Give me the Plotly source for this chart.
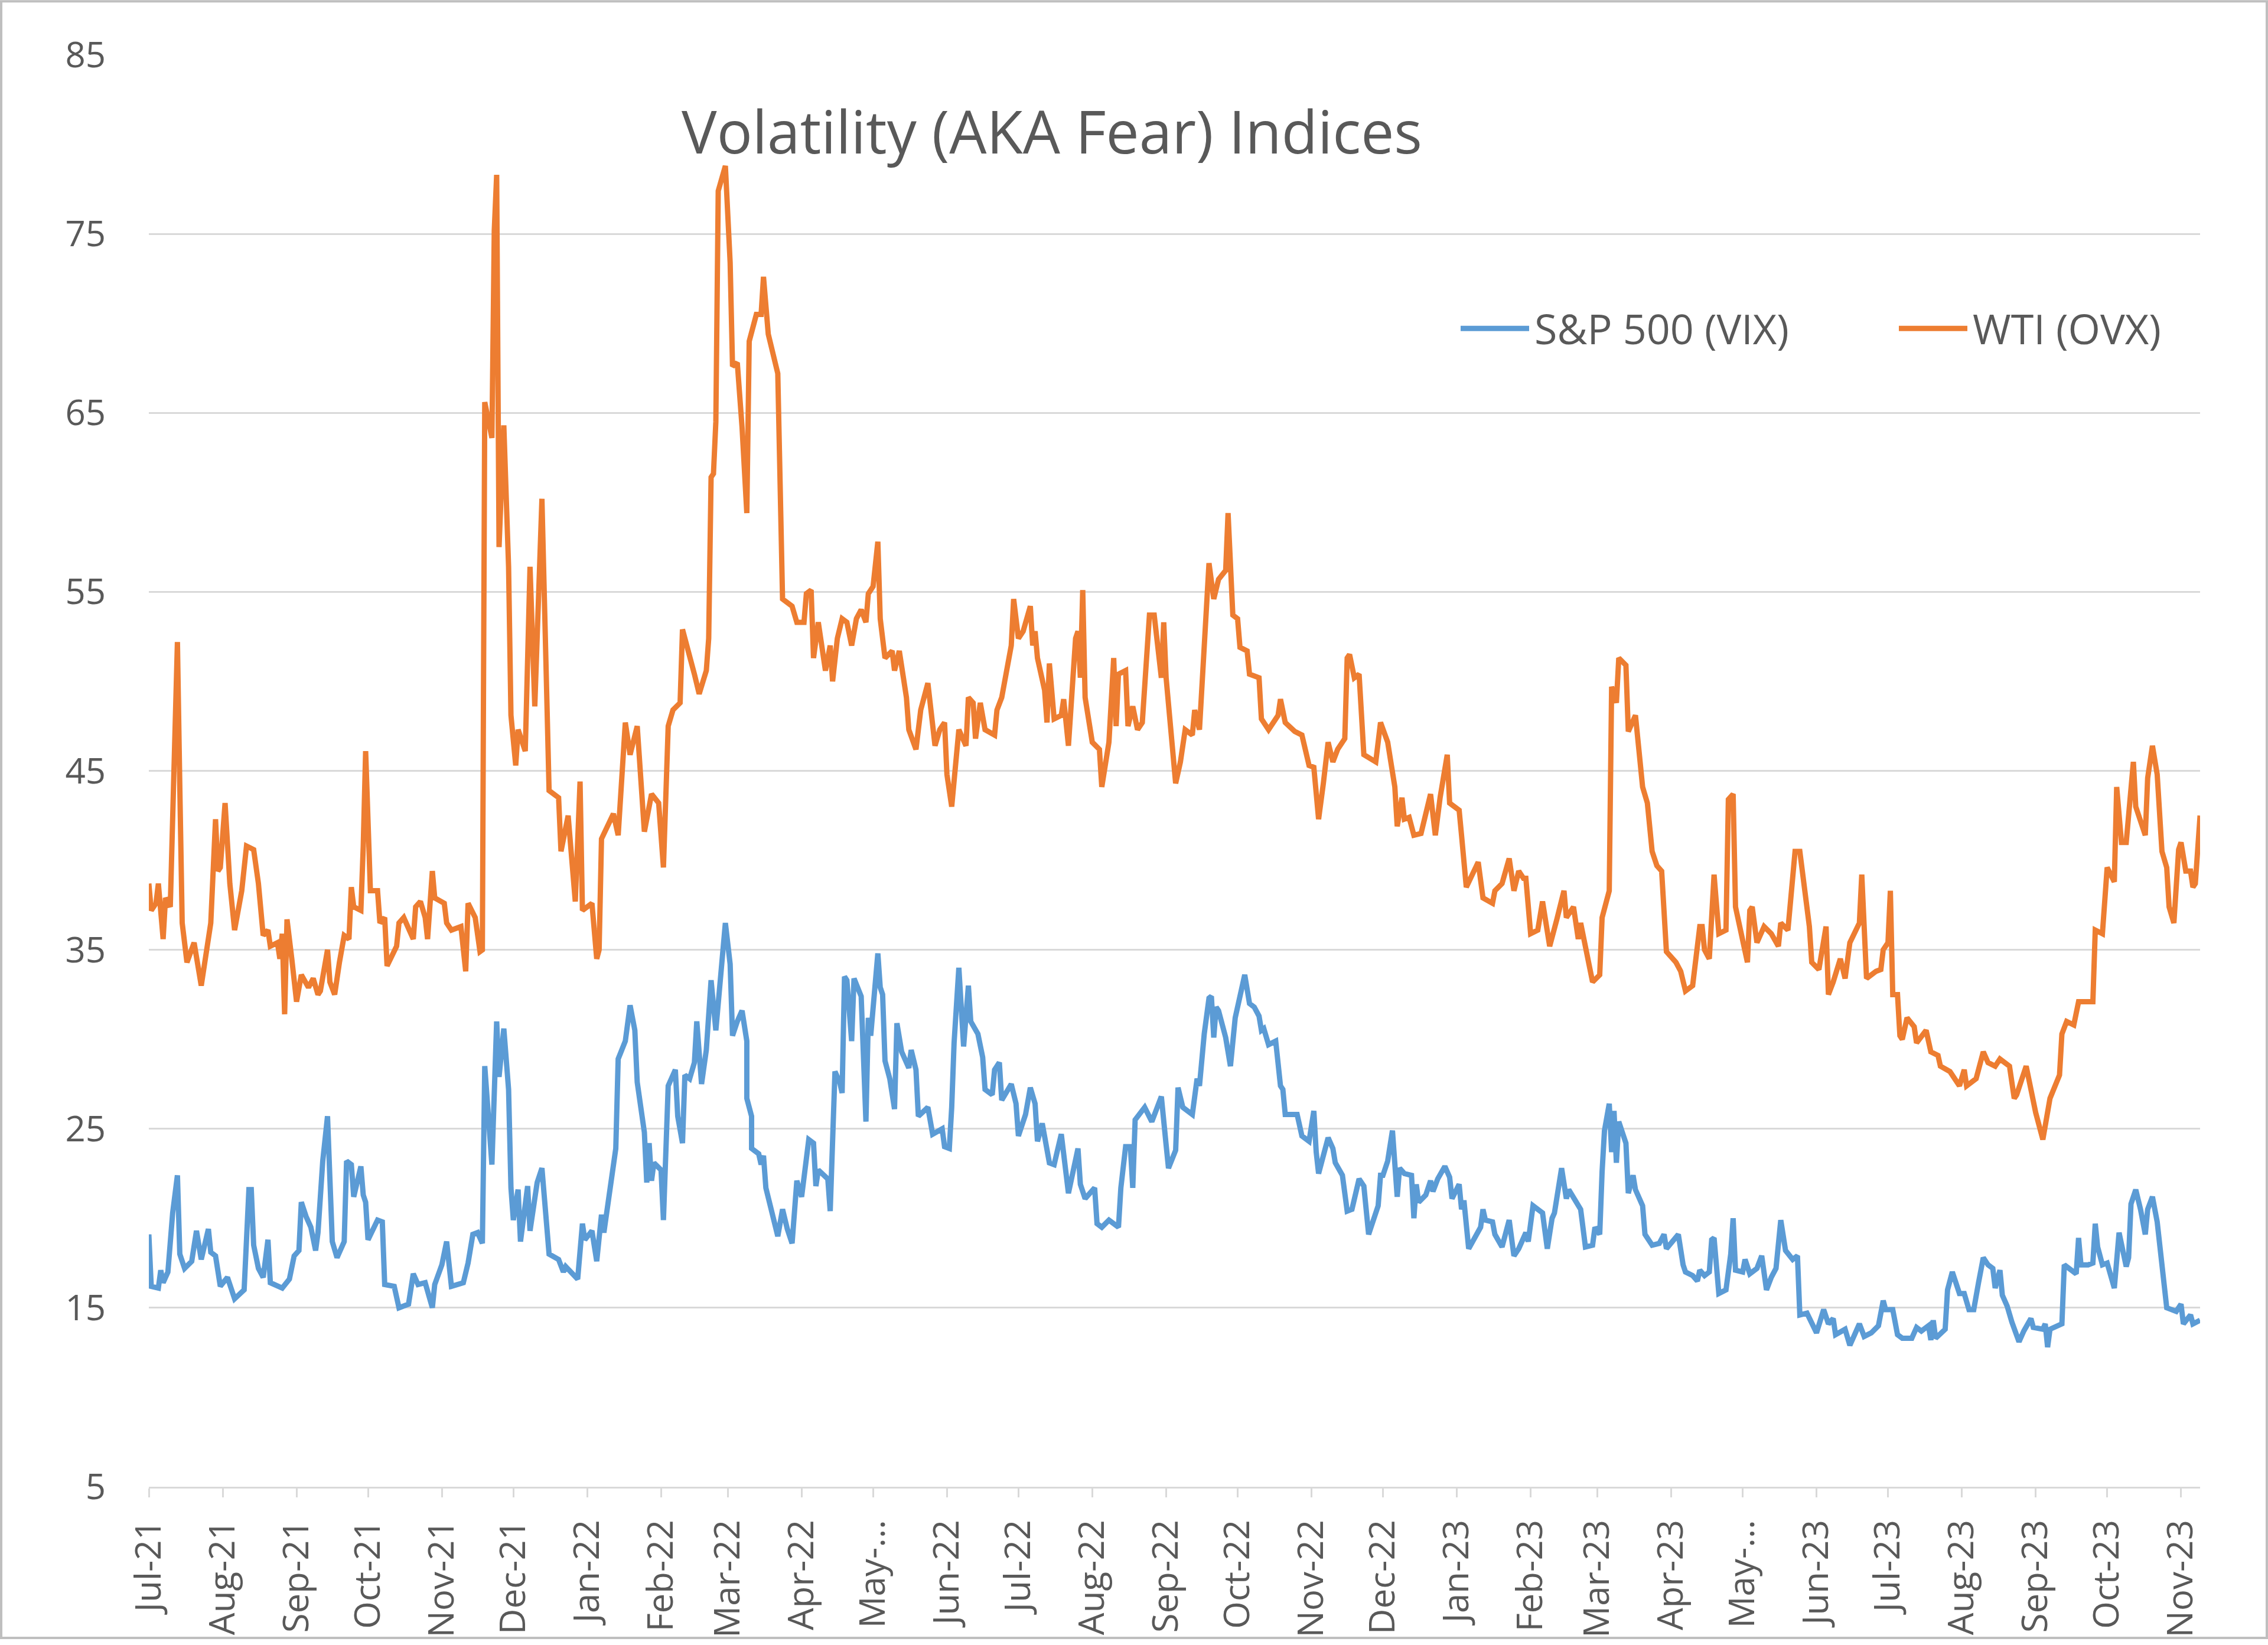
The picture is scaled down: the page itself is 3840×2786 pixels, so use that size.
import pandas as pd
import plotly.graph_objects as go

# ---------------- data ----------------
base_date = "2021-07-01"   # day 0 of the day offsets below

ovx_day = [0, 1, 3, 4, 6, 7, 9, 11, 12, 13, 14, 16, 19, 22, 26, 28, 29, 30, 32, 34, 36, 39, 41, 44, 46, 48, 50, 51, 54, 55,
           56, 57, 58, 60, 62, 64, 67, 69, 71, 72, 75, 76, 78, 80, 82, 84, 85, 86, 89, 90, 91, 93, 96, 97, 99, 100, 104, 105, 107, 111,
           112, 114, 116, 117, 119, 120, 124, 125, 127, 131, 132, 133, 134, 137, 139, 140, 141, 144, 145, 146, 147, 149, 151, 152, 154, 155, 158, 160, 162, 165,
           168, 172, 173, 176, 179, 181, 182, 186, 188, 189, 190, 195, 197, 200, 202, 205, 208, 211, 214, 216, 218, 220, 223, 224, 229, 231, 234, 235, 236, 237,
           238, 239, 242, 244, 245, 247, 249, 251, 252, 255, 257, 258, 260, 261, 264, 266, 270, 272, 275, 276, 278, 279, 281, 284, 286, 287, 289, 291, 293, 295,
           297, 299, 301, 302, 304, 306, 307, 309, 312, 313, 315, 318, 319, 322, 324, 327, 330, 332, 334, 335, 337, 340, 343, 344, 346, 347, 349, 351, 355, 356,
           358, 362, 363, 365, 367, 370, 371, 372, 373, 376, 377, 378, 380, 383, 384, 386, 389, 390, 391, 392, 393, 396, 399, 400, 403, 405, 406, 407, 410, 411,
           413, 415, 417, 420, 422, 425, 426, 427, 431, 433, 435, 438, 439, 441, 445, 447, 449, 452, 453, 455, 457, 458, 461, 462, 466, 467, 470, 474, 475, 477,
           481, 484, 487, 489, 491, 493, 495, 497, 499, 502, 503, 504, 506, 508, 510, 515, 517, 520, 523, 524, 526, 527, 529, 531, 534, 538, 540, 542, 545, 546,
           550, 551, 553, 558, 560, 564, 565, 568, 571, 573, 575, 577, 578, 580, 583, 585, 588, 591, 594, 595, 598, 600, 601, 606, 609, 610, 613, 614, 616, 617,
           620, 621, 624, 627, 629, 631, 633, 635, 637, 641, 643, 645, 648, 651, 652, 653, 655, 657, 659, 662, 663, 665, 666, 671, 672, 673, 675, 678, 681, 684,
           685, 688, 691, 693, 697, 698, 701, 704, 705, 707, 710, 712, 714, 718, 719, 721, 725, 727, 728, 730, 731, 732, 734, 735, 736, 738, 741, 742, 746, 748,
           751, 752, 756, 760, 762, 763, 767, 770, 772, 775, 777, 781, 783, 784, 788, 792, 795, 798, 802, 803, 805, 808, 810, 813, 816, 817, 820, 822, 825, 826,
           828, 830, 833, 834, 838, 839, 841, 843, 845, 847, 848, 850, 852, 853, 855, 857, 858, 859, 861]
ovx_val = [38.7, 37.2, 37.6, 38.7, 35.6, 37.9, 37.4, 45.9, 52.2, 44.1, 36.5, 34.3, 35.4, 33.0, 36.5, 42.3, 39.4, 39.6, 43.2, 38.7, 36.1, 38.3, 40.8, 40.6, 38.7, 35.8, 36.1, 35.2, 35.4, 34.5,
           35.9, 31.4, 36.7, 34.5, 32.1, 33.6, 32.9, 33.4, 32.5, 32.7, 35.0, 33.2, 32.5, 34.3, 35.8, 35.6, 38.5, 37.4, 37.2, 40.8, 46.1, 38.3, 38.3, 36.5, 36.8, 34.1, 35.2, 36.5, 36.8, 35.6,
           37.4, 37.7, 36.8, 35.6, 39.4, 37.9, 37.6, 36.5, 36.1, 36.3, 34.7, 33.8, 37.6, 36.8, 34.9, 35.0, 65.6, 63.6, 75.2, 78.3, 57.5, 64.3, 56.4, 48.1, 45.3, 47.3, 46.1, 56.4, 48.6, 60.2,
           43.9, 43.5, 40.5, 42.5, 37.7, 44.4, 37.2, 37.6, 34.5, 35.0, 41.2, 42.6, 41.4, 47.7, 45.9, 47.5, 41.6, 43.7, 43.2, 39.6, 47.5, 48.4, 48.8, 52.9, 50.4, 49.3, 50.6, 52.4, 61.4, 61.6,
           64.5, 77.4, 78.8, 73.4, 67.6, 67.8, 64.2, 59.4, 69.0, 70.5, 70.5, 72.6, 69.4, 68.9, 67.2, 54.6, 54.2, 53.3, 53.3, 54.9, 55.1, 51.3, 53.3, 50.6, 52.0, 50.0, 52.4, 53.5, 53.3, 52.0,
           53.5, 54.0, 53.3, 54.9, 55.3, 57.8, 53.5, 51.3, 51.7, 50.6, 51.7, 49.1, 47.3, 46.2, 48.4, 49.9, 46.4, 47.3, 47.7, 44.8, 43.0, 47.3, 46.4, 49.1, 48.8, 46.8, 48.8, 47.3, 47.0, 48.4,
           49.1, 52.0, 54.6, 52.4, 52.8, 54.2, 52.0, 52.8, 51.3, 49.5, 47.7, 51.0, 47.9, 48.1, 49.0, 46.4, 52.4, 52.8, 50.2, 55.1, 49.1, 46.6, 46.2, 44.1, 46.6, 51.3, 47.5, 50.4, 50.6, 47.5,
           48.6, 47.3, 47.7, 53.7, 53.7, 50.2, 53.3, 50.2, 44.3, 45.5, 47.3, 47.0, 48.4, 47.3, 56.6, 54.6, 55.7, 56.2, 59.4, 53.7, 53.5, 51.9, 51.7, 50.4, 50.2, 47.9, 47.3, 48.1, 49.0, 47.7,
           47.2, 47.0, 45.3, 45.2, 42.3, 44.3, 46.6, 45.5, 46.2, 46.8, 51.3, 51.5, 50.2, 50.4, 45.9, 45.5, 47.7, 46.6, 44.1, 41.9, 43.5, 42.3, 42.4, 41.4, 41.5, 43.7, 41.4, 43.5, 45.9, 43.2,
           42.8, 41.4, 38.5, 39.9, 37.9, 37.6, 38.3, 38.7, 40.1, 38.3, 39.4, 39.0, 39.0, 35.9, 36.1, 37.7, 35.2, 36.7, 38.3, 36.8, 37.4, 35.6, 36.5, 33.2, 33.6, 36.8, 38.3, 49.7, 48.8, 51.3,
           50.9, 47.2, 48.1, 44.1, 43.2, 40.5, 39.7, 39.4, 34.9, 34.3, 33.8, 32.7, 33.0, 36.3, 36.3, 35.0, 34.5, 39.2, 35.9, 36.1, 43.4, 43.7, 37.4, 34.3, 37.2, 37.4, 35.4, 36.3, 35.9, 35.2,
           36.5, 36.1, 40.5, 40.5, 36.3, 34.3, 33.9, 36.3, 32.5, 33.2, 34.5, 33.4, 35.4, 36.5, 39.2, 33.4, 33.8, 33.9, 35.0, 35.4, 38.3, 32.5, 32.5, 30.2, 30.0, 31.2, 30.7, 29.8, 30.5, 29.3,
           29.1, 28.5, 28.2, 27.4, 28.3, 27.4, 27.8, 29.3, 28.7, 28.5, 28.9, 28.5, 26.7, 26.9, 28.5, 25.9, 24.4, 26.7, 28.0, 30.3, 31.0, 30.8, 32.1, 32.1, 32.1, 36.1, 35.9, 39.6, 38.8, 44.1,
           41.0, 41.0, 45.5, 43.0, 41.4, 44.6, 46.4, 44.8, 40.5, 39.6, 37.4, 36.5, 40.6, 41.0, 39.4, 39.4, 38.5, 38.7, 42.5]

vix_day = [0, 1, 4, 5, 6, 8, 10, 12, 13, 15, 18, 20, 22, 25, 26, 28, 30, 33, 36, 40, 42, 43, 44, 46, 48, 50, 51, 56, 59, 61,
           63, 64, 66, 68, 70, 71, 73, 75, 77, 79, 82, 83, 85, 86, 89, 90, 91, 92, 96, 98, 99, 103, 105, 109, 111, 113, 116, 119, 120, 123,
           125, 127, 132, 134, 136, 138, 140, 141, 144, 146, 147, 149, 151, 152, 153, 155, 156, 159, 160, 163, 165, 168, 172, 174, 175, 180, 182, 183, 186, 188,
           190, 191, 196, 197, 200, 202, 204, 205, 208, 209, 210, 211, 212, 215, 216, 218, 221, 222, 224, 225, 227, 229, 230, 232, 234, 236, 238, 240, 242, 244,
           245, 247, 249, 251, 251, 253, 253, 256, 257, 258, 259, 264, 266, 268, 270, 272, 274, 277, 279, 280, 281, 285, 286, 288, 290, 291, 292, 293, 295, 296,
           298, 299, 301, 302, 303, 306, 307, 308, 309, 311, 313, 314, 316, 319, 320, 322, 323, 327, 329, 333, 334, 336, 337, 338, 340, 342, 344, 345, 348, 350,
           351, 354, 355, 357, 358, 362, 364, 365, 368, 370, 372, 373, 375, 376, 378, 380, 383, 385, 386, 390, 391, 393, 397, 398, 400, 403, 407, 408, 410, 412,
           413, 414, 418, 421, 425, 427, 428, 431, 432, 434, 438, 440, 441, 443, 445, 446, 447, 448, 449, 452, 453, 454, 456, 458, 460, 462, 464, 466, 467, 468,
           470, 473, 475, 476, 477, 482, 484, 487, 489, 490, 491, 495, 497, 498, 501, 503, 505, 508, 510, 512, 516, 517, 518, 520, 522, 524, 525, 527, 530, 531,
           532, 533, 536, 538, 539, 541, 544, 546, 547, 550, 551, 552, 554, 559, 560, 561, 564, 565, 568, 571, 573, 575, 578, 579, 581, 585, 587, 589, 590, 593,
           595, 596, 599, 601, 603, 606, 607, 609, 610, 611, 613, 614, 615, 616, 617, 620, 621, 623, 624, 627, 628, 631, 634, 636, 637, 642, 644, 645, 648, 650,
           651, 653, 655, 656, 657, 659, 662, 664, 665, 666, 669, 670, 672, 675, 677, 679, 681, 683, 685, 687, 690, 692, 693, 696, 700, 703, 705, 707, 708, 712,
           714, 718, 720, 723, 726, 728, 729, 732, 734, 736, 740, 742, 744, 747, 748, 749, 750, 754, 755, 757, 760, 762, 764, 766, 768, 770, 772, 774, 775, 777,
           778, 780, 782, 785, 787, 790, 791, 795, 796, 797, 798, 803, 804, 807, 809, 810, 811, 814, 816, 817, 818, 820, 822, 825, 827, 830, 831, 832, 834, 836,
           838, 839, 841, 843, 845, 847, 851, 853, 854, 857, 858, 861]
vix_val = [19.1, 16.2, 16.1, 17.1, 16.4, 17.0, 20.3, 22.4, 18.0, 17.2, 17.6, 19.3, 17.7, 19.4, 18.1, 17.9, 16.2, 16.7, 15.5, 16.0, 21.6, 21.6, 18.5, 17.2, 16.7, 18.8, 16.4, 16.1, 16.6, 17.9,
           18.2, 20.9, 20.1, 19.5, 18.2, 19.2, 23.2, 25.7, 18.7, 17.8, 18.7, 23.2, 23.0, 21.2, 22.9, 21.3, 20.9, 18.8, 19.9, 19.8, 16.3, 16.2, 15.0, 15.2, 16.9, 16.3, 16.4, 15.0, 16.3, 17.4,
           18.7, 16.2, 16.4, 17.5, 19.1, 19.2, 18.6, 28.5, 23.0, 31.0, 27.9, 30.6, 27.2, 21.7, 19.9, 21.6, 18.7, 21.8, 19.3, 22.0, 22.8, 18.0, 17.7, 17.0, 17.3, 16.6, 19.7, 18.8, 19.3, 17.6,
           20.2, 19.2, 23.9, 28.9, 29.9, 31.9, 30.5, 27.6, 24.8, 22.0, 24.2, 22.1, 23.1, 22.7, 19.9, 27.4, 28.3, 25.7, 24.2, 28.0, 27.8, 28.7, 31.0, 27.5, 29.4, 33.3, 30.5, 33.9, 36.5, 34.2,
           30.2, 31.0, 31.6, 29.9, 26.7, 25.7, 23.9, 23.6, 23.0, 23.5, 21.7, 19.0, 20.5, 19.4, 18.6, 22.1, 21.2, 24.4, 24.2, 21.8, 22.7, 22.2, 20.4, 28.2, 27.6, 27.0, 33.5, 33.3, 29.9, 33.4,
           32.8, 32.4, 25.4, 31.2, 30.2, 34.8, 32.9, 32.5, 28.8, 27.8, 26.1, 30.9, 29.3, 28.4, 29.4, 28.3, 25.7, 26.2, 24.7, 25.0, 24.0, 23.9, 26.2, 29.8, 34.0, 29.6, 33.0, 31.0, 30.3, 29.0,
           27.2, 26.9, 28.3, 28.7, 26.6, 27.5, 26.4, 24.6, 25.8, 27.3, 26.4, 24.3, 25.3, 24.4, 23.1, 23.0, 24.7, 22.5, 21.4, 23.9, 21.9, 21.1, 21.7, 19.7, 19.5, 19.9, 19.5, 21.7, 24.0, 24.0,
           21.7, 25.5, 26.2, 25.4, 26.8, 24.1, 22.8, 23.8, 27.3, 26.2, 25.8, 27.8, 27.4, 30.3, 32.3, 32.4, 30.1, 31.8, 31.6, 30.1, 29.0, 28.5, 31.2, 32.4, 33.6, 32.0, 31.8, 31.3, 30.5, 30.6,
           29.7, 29.9, 27.4, 27.2, 25.8, 25.8, 24.6, 24.3, 26.0, 23.7, 22.5, 24.5, 23.9, 23.1, 22.4, 20.4, 20.5, 22.2, 21.8, 19.1, 20.7, 22.4, 22.4, 23.2, 24.9, 21.2, 22.8, 22.5, 22.4, 20.0,
           21.9, 20.9, 21.3, 22.1, 21.5, 22.2, 22.9, 22.3, 21.1, 21.9, 20.5, 21.0, 18.3, 19.5, 20.5, 19.9, 19.8, 19.1, 18.4, 19.9, 17.9, 18.3, 19.2, 18.7, 20.7, 20.3, 18.3, 20.0, 20.3, 22.8,
           21.1, 21.6, 20.9, 20.5, 18.4, 18.5, 19.5, 19.1, 22.6, 24.9, 26.4, 23.7, 26.0, 23.1, 25.4, 24.2, 21.4, 22.4, 21.6, 20.7, 19.1, 18.5, 18.6, 19.1, 18.3, 19.1, 17.4, 17.0, 16.8, 16.5,
           17.1, 16.8, 17.0, 18.8, 18.9, 15.8, 16.0, 18.0, 20.0, 17.1, 17.0, 17.7, 16.9, 17.2, 17.9, 16.0, 16.7, 17.2, 19.9, 18.2, 17.7, 17.9, 14.6, 14.7, 13.6, 14.9, 14.1, 14.4, 13.5, 13.8,
           12.9, 14.1, 13.4, 13.6, 14.0, 15.4, 14.9, 14.9, 13.5, 13.3, 13.3, 13.9, 13.7, 14.0, 13.2, 14.3, 13.3, 13.8, 16.0, 17.0, 15.8, 15.8, 14.9, 14.9, 16.4, 17.8, 17.4, 17.2, 16.1, 17.1,
           15.7, 15.1, 14.2, 13.1, 13.7, 14.4, 13.9, 13.8, 14.1, 12.8, 13.8, 14.1, 17.4, 17.1, 16.9, 18.9, 17.4, 17.4, 17.5, 19.7, 18.4, 17.4, 17.5, 16.1, 19.2, 17.3, 17.8, 20.8, 21.6, 20.5,
           19.1, 20.5, 21.2, 19.8, 17.4, 15.0, 14.8, 15.2, 14.1, 14.6, 14.1, 14.3]

series_names = ["S&P 500 (VIX)", "WTI (OVX)"]
series_colors = ["#5B9BD5", "#ED7D31"]

tick_dates = ["2021-07-01", "2021-08-01", "2021-09-01", "2021-10-01", "2021-11-01", "2021-12-01",
              "2022-01-01", "2022-02-01", "2022-03-01", "2022-04-01", "2022-05-01", "2022-06-01",
              "2022-07-01", "2022-08-01", "2022-09-01", "2022-10-01", "2022-11-01", "2022-12-01",
              "2023-01-01", "2023-02-01", "2023-03-01", "2023-04-01", "2023-05-01", "2023-06-01",
              "2023-07-01", "2023-08-01", "2023-09-01", "2023-10-01", "2023-11-01"]
tick_labels = ["Jul-21", "Aug-21", "Sep-21", "Oct-21", "Nov-21", "Dec-21",
               "Jan-22", "Feb-22", "Mar-22", "Apr-22", "May-…", "Jun-22",
               "Jul-22", "Aug-22", "Sep-22", "Oct-22", "Nov-22", "Dec-22",
               "Jan-23", "Feb-23", "Mar-23", "Apr-23", "May-…", "Jun-23",
               "Jul-23", "Aug-23", "Sep-23", "Oct-23", "Nov-23"]
y_ticks = [5, 15, 25, 35, 45, 55, 65, 75, 85]

title_text = "Volatility (AKA Fear) Indices"

# ---------------- figure ----------------
base = pd.Timestamp(base_date)
vix_dates = base + pd.to_timedelta(vix_day, unit="D")
ovx_dates = base + pd.to_timedelta(ovx_day, unit="D")
x_end = max(vix_dates.max(), ovx_dates.max())

W, H = 3840, 2786
ML, MR, MT, MB = 252, 115, 93, 259
FONT = "Open Sans"
TXT = "#595959"
GRID = "#D9D9D9"
LW = 9

fig = go.Figure()
fig.add_trace(go.Scatter(x=vix_dates, y=vix_val, mode="lines", name=series_names[0],
                         line=dict(color=series_colors[0], width=LW), showlegend=False))
fig.add_trace(go.Scatter(x=ovx_dates, y=ovx_val, mode="lines", name=series_names[1],
                         line=dict(color=series_colors[1], width=LW), showlegend=False))

pw = W - ML - MR
ph = H - MT - MB


def px_x(X):
    return (X - ML) / pw


def px_y(Y):
    return (H - MB - Y) / ph


shapes = []
annotations = []
# legend drawn as line samples + labels (horizontal, top right of plot)
leg_y = px_y(558)
leg_items = [(2473, 2589, 2596), (3215, 3331, 3338)]
for (x0, x1, xt), name, col in zip(leg_items, series_names, series_colors):
    shapes.append(dict(type="line", xref="paper", yref="paper", x0=px_x(x0), x1=px_x(x1),
                       y0=leg_y, y1=leg_y, line=dict(color=col, width=LW)))
    annotations.append(dict(xref="paper", yref="paper", x=px_x(xt), y=leg_y, text=name,
                            showarrow=False, xanchor="left", yanchor="middle",
                            font=dict(family=FONT, size=70, color=TXT)))

# chart outer border
shapes.append(dict(type="rect", xref="paper", yref="paper", layer="above",
                   x0=px_x(2), x1=px_x(W - 2), y0=px_y(H - 2), y1=px_y(2),
                   line=dict(color="#BFBFBF", width=4), fillcolor="rgba(0,0,0,0)"))

fig.update_layout(
    width=W, height=H,
    margin=dict(l=ML, r=MR, t=MT, b=MB, pad=0),
    paper_bgcolor="white", plot_bgcolor="white",
    font=dict(family=FONT, color=TXT, size=60),
    title=dict(text=title_text, x=1781 / W, y=1 - 225 / H, xanchor="center", yanchor="middle",
               font=dict(family=FONT, size=100, color=TXT)),
    shapes=shapes, annotations=annotations,
    showlegend=False,
)
fig.update_xaxes(
    type="date", range=[base, x_end],
    tickmode="array", tickvals=tick_dates, ticktext=tick_labels, tickangle=-90,
    ticks="outside", ticklen=15, tickwidth=3, tickcolor=GRID,
    showline=True, linecolor=GRID, linewidth=3,
    showgrid=False, zeroline=False,
    tickfont=dict(family=FONT, size=60, color=TXT), ticklabelstandoff=14,
)
fig.update_yaxes(
    range=[5, 85], tickmode="array", tickvals=y_ticks,
    showgrid=True, gridcolor=GRID, gridwidth=3,
    showline=False, zeroline=False, ticks="",
    tickfont=dict(family=FONT, size=60, color=TXT), ticklabelstandoff=72,
)

fig.write_html("out.html")
